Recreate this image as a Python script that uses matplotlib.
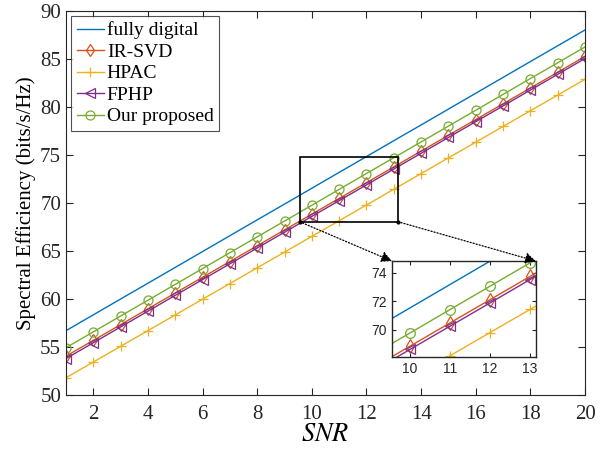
import matplotlib
matplotlib.use("Agg")
import matplotlib.pyplot as plt
from matplotlib.patches import Rectangle, ConnectionPatch

# --- Data ---
snr = list(range(1, 21))
fully_digital = [56.70, 58.35, 60.00, 61.64, 63.29, 64.94, 66.59, 68.24, 69.88, 71.53,
                 73.18, 74.83, 76.48, 78.12, 79.77, 81.42, 83.07, 84.72, 86.36, 88.01]
ir_svd = [54.05, 55.69, 57.33, 58.98, 60.62, 62.26, 63.90, 65.54, 67.19, 68.83,
          70.47, 72.11, 73.75, 75.40, 77.04, 78.68, 80.32, 81.96, 83.61, 85.25]
hpac = [51.80, 53.44, 55.07, 56.71, 58.34, 59.98, 61.61, 63.25, 64.88, 66.52,
        68.15, 69.79, 71.42, 73.06, 74.69, 76.33, 77.96, 79.60, 81.23, 82.87]
fphp = [53.80, 55.44, 57.09, 58.73, 60.38, 62.02, 63.66, 65.31, 66.95, 68.60,
        70.24, 71.88, 73.53, 75.17, 76.82, 78.46, 80.10, 81.75, 83.39, 85.04]
proposed = [54.93, 56.58, 58.23, 59.87, 61.52, 63.17, 64.82, 66.47, 68.11, 69.76,
            71.41, 73.06, 74.71, 76.35, 78.00, 79.65, 81.30, 82.95, 84.59, 86.24]

series = [
    ("fully digital", fully_digital, "#0072BD", None),
    ("IR-SVD", ir_svd, "#D95319", "d"),
    ("HPAC", hpac, "#EDB120", "+"),
    ("FPHP", fphp, "#7E2F8E", "<"),
    ("Our proposed", proposed, "#77AC30", "o"),
]

zoom_x = (9.55, 13.15)
zoom_y = (68.05, 74.83)

plt.rcParams["font.family"] = ["Liberation Serif", "DejaVu Serif"]
plt.rcParams["mathtext.fontset"] = "stix"

fig = plt.figure(figsize=(6.05, 4.51), dpi=100)
ax = fig.add_axes([0.109, 0.124, 0.858, 0.852])


def draw(a, ms):
    for name, vals, col, mk in series:
        if mk is None:
            a.plot(snr, vals, color=col, lw=1.0, label=name)
        else:
            a.plot(snr, vals, color=col, lw=1.0, marker=mk, ms=ms,
                   mfc="none", mec=col, mew=0.9, label=name)


draw(ax, 6.5)
ax.set_xlim(1, 20)
ax.set_ylim(50, 90)
ax.set_xticks(range(2, 21, 2))
ax.set_yticks(range(50, 91, 5))
ax.tick_params(direction="in", top=True, right=True, labelsize=15, colors="#262626",
               length=5, width=0.8)
ax.tick_params(axis="x", pad=7)
for s in ax.spines.values():
    s.set_color("#262626")
    s.set_linewidth(0.8)
ax.set_xlabel("$SNR$", fontsize=19, labelpad=0)
ax.set_ylabel("Spectral Efficiency (bits/s/Hz)", fontsize=15, labelpad=3)
leg = ax.legend(loc="upper left", fontsize=14, frameon=True, fancybox=False,
                borderpad=0.3, labelspacing=0.2, handlelength=1.4,
                handletextpad=0.15, borderaxespad=0.25, edgecolor="#262626")
leg.get_frame().set_linewidth(0.8)

# zoom rectangle
ax.add_patch(Rectangle((zoom_x[0], zoom_y[0]), zoom_x[1] - zoom_x[0],
                       zoom_y[1] - zoom_y[0], fill=False, ec="black", lw=1.2, zorder=5))

# inset
axin = fig.add_axes([0.648, 0.208, 0.238, 0.213])
draw(axin, 7)
axin.set_xlim(*zoom_x)
axin.set_ylim(*zoom_y)
axin.set_xticks([10, 11, 12, 13])
axin.set_yticks([70, 72, 74])
axin.tick_params(direction="in", top=True, right=True, labelsize=10, colors="#262626",
                 length=3, width=0.8)
for lab in axin.get_xticklabels() + axin.get_yticklabels():
    lab.set_fontfamily("Liberation Sans")
for s in axin.spines.values():
    s.set_color("#262626")
    s.set_linewidth(1.0)

# dotted arrows from rectangle to inset
for xa, xb in [(zoom_x[0], 0), (zoom_x[1], 1)]:
    con = ConnectionPatch(xyA=(xa, zoom_y[0]), coordsA=ax.transData,
                          xyB=(xb, 1), coordsB=axin.transAxes,
                          arrowstyle="-|>", linestyle=(0, (1, 1.5)), lw=0.9,
                          color="black", mutation_scale=16, zorder=6)
    fig.add_artist(con)
    ax.plot([xa], [zoom_y[0]], "k.", ms=4, zorder=6, clip_on=False)

fig.savefig("out.png", dpi=100)
